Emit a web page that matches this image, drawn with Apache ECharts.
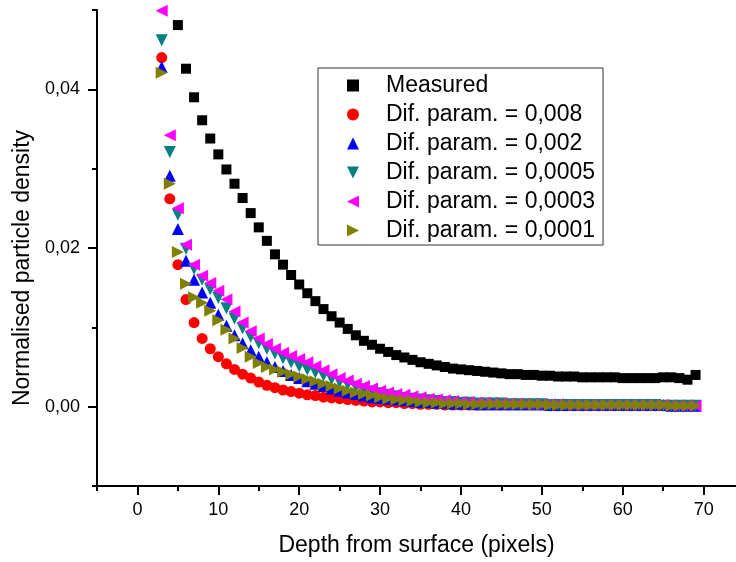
<!DOCTYPE html>
<html>
<head>
<meta charset="utf-8">
<script src="https://cdn.jsdelivr.net/npm/echarts@6/dist/echarts.min.js"></script>
<style>
html,body{margin:0;padding:0;background:#fff;}
#chart{width:736px;height:562px;}
</style>
</head>
<body>
<div id="chart"></div>
<script>
// ---- data ----
var seriesNames = ['Measured', 'Dif. param. = 0,008', 'Dif. param. = 0,002', 'Dif. param. = 0,0005', 'Dif. param. = 0,0003', 'Dif. param. = 0,0001'];

var depthMeasured = [5,6,7,8,9,10,11,12,13,14,15,16,17,18,19,20,21,22,23,24,25,26,27,28,29,30,31,32,33,34,35,36,37,38,39,40,41,42,43,44,45,46,47,48,49,50,51,52,53,54,55,56,57,58,59,60,61,62,63,64,65,66,67,68,69];
var measured = [0.0481,0.0426,0.0390,0.0361,0.0338,0.0318,0.0299,0.0281,0.0263,0.0244,
  0.0226,0.0209,0.0192,0.0179,0.0166,0.0154,0.0143,0.0133,0.0123,0.0114,
  0.0106,0.0098,0.0090,0.0083,0.0078,0.0073,0.0069,0.0065,0.0062,0.0059,
  0.0056,0.0054,0.0052,0.0050,0.0048,0.0047,0.0046,0.0045,0.0044,0.0043,
  0.0042,0.0041,0.0041,0.0040,0.0040,0.0039,0.0039,0.0038,0.0038,0.0038,
  0.0037,0.0037,0.0037,0.0037,0.0037,0.0036,0.0036,0.0036,0.0036,0.0036,
  0.0037,0.0037,0.0036,0.0034,0.0040];

var depthModel = [3,4,5,6,7,8,9,10,11,12,13,14,15,16,17,18,19,20,21,22,23,24,25,26,27,28,29,30,31,32,33,34,35,36,37,38,39,40,41,42,43,44,45,46,47,48,49,50,51,52,53,54,55,56,57,58,59,60,61,62,63,64,65,66,67,68,69];
var dif0008 = [0.0440,0.0262,0.0179,0.0135,0.0106,0.0086,0.0073,0.0063,0.0054,0.0047,
  0.0041,0.0036,0.0031,0.0027,0.0024,0.0021,0.0019,0.0017,0.0015,0.0014,
  0.0012,0.0011,0.0010,0.0009,0.0008,0.0007,0.0006,0.0006,0.0005,0.0005,
  0.0004,0.0004,0.0003,0.0003,0.0003,0.0002,0.0002,0.0002,0.0002,0.0002,
  0.0002,0.0002,0.0002,0.0002,0.0002,0.0002,0.0002,0.0002,0.0001,0.0001,
  0.0001,0.0001,0.0001,0.0001,0.0001,0.0001,0.0001,0.0001,0.0001,0.0001,
  0.0001,0.0001,0.0001,0.0001,0.0001,0.0001,0.0001];
var dif0002 = [0.0428,0.0291,0.0224,0.0184,0.0160,0.0144,0.0131,0.0116,0.0102,0.0090,
  0.0080,0.0071,0.0063,0.0056,0.0050,0.0045,0.0040,0.0036,0.0032,0.0029,
  0.0026,0.0023,0.0020,0.0018,0.0016,0.0014,0.0012,0.0011,0.0010,0.0009,
  0.0008,0.0007,0.0006,0.0006,0.0005,0.0005,0.0004,0.0004,0.0004,0.0003,
  0.0003,0.0003,0.0003,0.0003,0.0003,0.0003,0.0003,0.0003,0.0002,0.0002,
  0.0002,0.0002,0.0002,0.0002,0.0002,0.0002,0.0002,0.0002,0.0002,0.0002,
  0.0002,0.0002,0.0002,0.0001,0.0001,0.0001,0.0001];
var dif00005 = [0.0462,0.0321,0.0242,0.0199,0.0174,0.0160,0.0148,0.0137,0.0124,0.0111,
  0.0099,0.0088,0.0080,0.0073,0.0067,0.0061,0.0056,0.0051,0.0047,0.0043,
  0.0039,0.0035,0.0031,0.0028,0.0025,0.0022,0.0019,0.0017,0.0015,0.0013,
  0.0011,0.0010,0.0009,0.0008,0.0007,0.0006,0.0006,0.0005,0.0005,0.0004,
  0.0004,0.0004,0.0004,0.0003,0.0003,0.0003,0.0003,0.0003,0.0002,0.0002,
  0.0002,0.0002,0.0002,0.0002,0.0002,0.0002,0.0002,0.0002,0.0002,0.0002,
  0.0002,0.0002,0.0001,0.0001,0.0001,0.0001,0.0001];
var dif00003 = [0.0499,0.0342,0.0250,0.0204,0.0179,0.0165,0.0156,0.0146,0.0135,0.0120,
  0.0106,0.0095,0.0086,0.0079,0.0073,0.0068,0.0064,0.0060,0.0056,0.0051,
  0.0046,0.0041,0.0036,0.0033,0.0029,0.0026,0.0023,0.0020,0.0018,0.0016,
  0.0015,0.0013,0.0012,0.0010,0.0009,0.0008,0.0007,0.0006,0.0006,0.0005,
  0.0005,0.0004,0.0004,0.0004,0.0004,0.0003,0.0003,0.0003,0.0003,0.0003,
  0.0002,0.0002,0.0002,0.0002,0.0002,0.0002,0.0002,0.0002,0.0002,0.0002,
  0.0002,0.0002,0.0002,0.0001,0.0001,0.0001,0.0001];
var dif00001 = [0.0421,0.0281,0.0195,0.0155,0.0138,0.0131,0.0121,0.0109,0.0097,0.0086,
  0.0074,0.0063,0.0055,0.0050,0.0047,0.0044,0.0041,0.0038,0.0035,0.0032,
  0.0029,0.0026,0.0023,0.0020,0.0018,0.0016,0.0014,0.0012,0.0010,0.0009,
  0.0008,0.0007,0.0006,0.0005,0.0005,0.0004,0.0004,0.0004,0.0003,0.0003,
  0.0003,0.0003,0.0003,0.0003,0.0003,0.0003,0.0003,0.0003,0.0002,0.0002,
  0.0002,0.0002,0.0002,0.0002,0.0002,0.0002,0.0002,0.0002,0.0002,0.0002,
  0.0002,0.0002,0.0002,0.0001,0.0001,0.0001,0.0001];

var xMajorTicks = [0,10,20,30,40,50,60,70];
var xMinorTicks = [-5,5,15,25,35,45,55,65];
var yMajorTicks = [0,0.02,0.04];
var yMinorTicks = [-0.01,0.01,0.03,0.05];

var xTitle = 'Depth from surface (pixels)';
var yTitle = 'Normalised particle density';

// ---- styling ----
var FONT = 'Liberation Sans, Arial, sans-serif';
var colors = ['#000000','#ff0000','#0000ff','#008080','#ff00ff','#808000'];
var symbols = ['rect','circle','triangle','path://M0,0L12,0L6,12Z','path://M12,0L0,6L12,12Z','path://M0,0L12,6L0,12Z'];
var sizes = [10,11,12,12,12,12];

function pairs(xs, ys){ return xs.map(function(x,i){ return [x, ys[i]]; }); }
var allX = [depthMeasured, depthModel, depthModel, depthModel, depthModel, depthModel];
var allY = [measured, dif0008, dif0002, dif00005, dif00003, dif00001];

var series = seriesNames.map(function(n, i){
  return {
    name: n, type: 'scatter', xAxisIndex: 0, yAxisIndex: 0,
    data: pairs(allX[i], allY[i]),
    symbol: symbols[i], symbolSize: sizes[i],
    itemStyle: { color: colors[i], opacity: 1 },
    emphasis: { disabled: true }
  };
});

var axisLineStyle = { color: '#000', width: 2 };
function fmtY(v){ return v.toFixed(2).replace('.', ','); }

var chart = echarts.init(document.getElementById('chart'), null, { renderer: 'canvas' });
chart.setOption({
  animation: false,
  backgroundColor: '#fff',
  textStyle: { fontFamily: FONT },
  grid: { left: 97, right: 0, top: 10, bottom: 75, containLabel: false },
  legend: {
    data: seriesNames,
    orient: 'vertical',
    left: 318, top: 68,
    padding: [6, 8, 3, 29],
    borderColor: '#333', borderWidth: 1,
    itemWidth: 12, itemHeight: 12, itemGap: 6,
    textStyle: { fontSize: 23, lineHeight: 22, color: '#000', fontFamily: FONT, padding: [0,0,0,22] },
    selectedMode: false
  },
  xAxis: [{
    type: 'value', min: -5, max: 74, position: 'bottom',
    name: xTitle, nameLocation: 'middle', nameGap: 48,
    nameTextStyle: { fontSize: 23, color: '#000', fontFamily: FONT },
    axisLine: { show: true, onZero: false, lineStyle: axisLineStyle },
    axisTick: { show: true, customValues: xMajorTicks, length: 9, lineStyle: axisLineStyle },
    axisLabel: { customValues: xMajorTicks, fontSize: 18, color: '#000', margin: 15, fontFamily: FONT },
    splitLine: { show: false }
  }, {
    type: 'value', min: -5, max: 74, position: 'bottom', gridIndex: 0,
    axisLine: { show: false, onZero: false },
    axisTick: { show: true, customValues: xMinorTicks, length: 5, lineStyle: axisLineStyle },
    axisLabel: { show: false },
    splitLine: { show: false }
  }],
  yAxis: [{
    type: 'value', min: -0.01, max: 0.05, position: 'left',
    name: yTitle, nameLocation: 'middle', nameGap: 63, nameRotate: 90,
    nameTextStyle: { fontSize: 23, color: '#000', fontFamily: FONT, padding: [0, 40, 0, 0] },
    axisLine: { show: true, onZero: false, lineStyle: axisLineStyle },
    axisTick: { show: true, customValues: yMajorTicks, length: 9, lineStyle: axisLineStyle },
    axisLabel: { customValues: yMajorTicks, formatter: fmtY, fontSize: 18, color: '#000', margin: 17, fontFamily: FONT },
    splitLine: { show: false }
  }, {
    type: 'value', min: -0.01, max: 0.05, position: 'left', gridIndex: 0,
    axisLine: { show: false, onZero: false },
    axisTick: { show: true, customValues: yMinorTicks, length: 5, lineStyle: axisLineStyle },
    axisLabel: { show: false },
    splitLine: { show: false }
  }],
  series: series
});
</script>
</body>
</html>
